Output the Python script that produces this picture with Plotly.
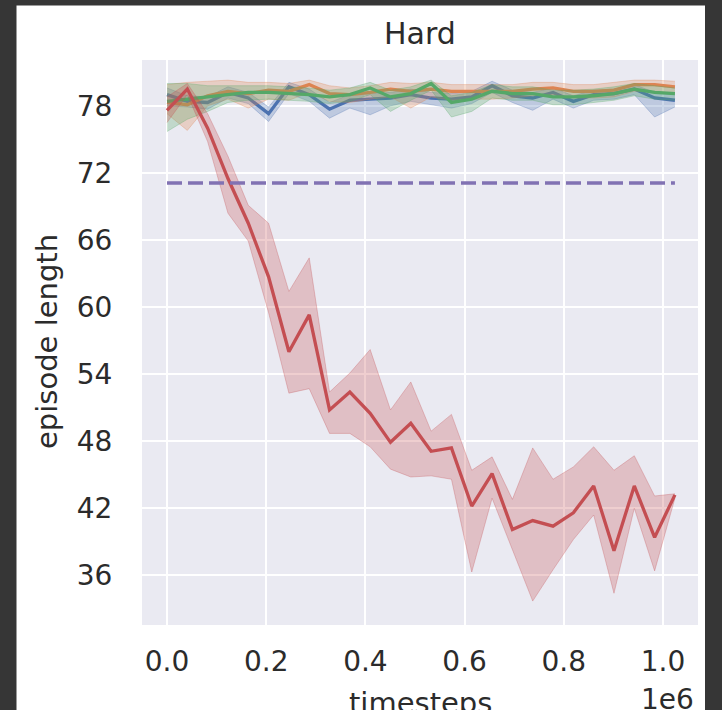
import plotly.graph_objects as go

# ---------------- data ----------------
timesteps = [0, 40960, 81920, 122880, 163840, 204800, 245760, 286720, 327680, 368640,
             409600, 450560, 491520, 532480, 573440, 614400, 655360, 696320, 737280,
             778240, 819200, 860160, 901120, 942080, 983040, 1024000]

blue_mean = [79.0, 78.4, 78.3, 79.2, 78.7, 77.3, 79.7, 79.0, 77.7, 78.5, 78.6, 78.7, 79.0,
             78.7, 78.6, 78.8, 79.8, 78.9, 78.7, 79.2, 78.4, 79.0, 79.1, 79.5, 78.7, 78.5]
blue_upper = [79.6, 78.9, 78.8, 79.7, 79.2, 77.9, 80.1, 79.5, 78.3, 79.0, 79.1, 79.2, 79.5,
              79.2, 79.1, 79.3, 80.2, 79.4, 79.2, 79.6, 78.9, 79.4, 79.5, 79.9, 79.2, 79.0]
blue_lower = [78.0, 77.9, 77.7, 78.7, 78.2, 76.6, 79.1, 78.4, 76.9, 77.8, 77.2, 78.0, 78.4,
              78.1, 77.8, 78.2, 79.2, 78.3, 77.6, 78.6, 77.8, 78.5, 78.6, 79.0, 77.0, 77.9]

orange_mean = [78.3, 78.1, 78.9, 79.3, 79.1, 79.4, 79.3, 79.9, 79.1, 79.0, 79.2, 79.5, 79.3,
               79.5, 79.3, 79.3, 79.3, 79.3, 79.5, 79.6, 79.3, 79.3, 79.4, 79.9, 79.9, 79.7]
orange_upper = [79.9, 80.1, 80.2, 80.3, 80.1, 80.1, 80.0, 80.3, 79.8, 79.6, 79.8, 80.1, 80.0,
                80.1, 79.9, 79.9, 79.9, 79.9, 80.1, 80.1, 79.9, 79.9, 80.1, 80.3, 80.3, 80.2]
orange_lower = [77.3, 75.8, 78.0, 78.6, 77.8, 78.6, 78.5, 79.2, 78.4, 78.3, 78.6, 78.8, 77.8,
                78.8, 78.5, 78.6, 78.6, 78.7, 78.9, 79.0, 78.7, 78.7, 78.8, 79.3, 79.3, 79.1]

green_mean = [78.4, 78.6, 78.8, 79.0, 79.2, 79.2, 79.1, 79.0, 78.8, 79.0, 79.6, 78.8, 79.1,
              80.0, 78.3, 78.6, 79.3, 79.1, 79.1, 78.8, 78.8, 78.9, 79.1, 79.5, 79.2, 79.1]
green_upper = [80.0, 80.0, 79.8, 79.8, 79.8, 79.8, 79.7, 79.6, 79.4, 79.6, 80.1, 79.4, 79.7,
               80.3, 78.9, 79.2, 79.9, 79.7, 79.7, 79.4, 79.4, 79.5, 79.7, 80.0, 79.8, 79.6]
green_lower = [75.7, 76.8, 77.5, 78.3, 78.5, 78.6, 78.5, 78.4, 78.2, 78.4, 79.0, 77.5, 78.5,
               79.4, 77.0, 77.5, 78.7, 78.5, 78.5, 78.1, 78.1, 78.3, 78.5, 78.9, 78.6, 78.5]

red_mean = [77.6, 79.5, 76.0, 71.5, 67.5, 62.7, 56.0, 59.3, 50.8, 52.4, 50.5, 47.9, 49.6,
            47.1, 47.4, 42.2, 45.1, 40.1, 40.9, 40.4, 41.6, 44.0, 38.2, 44.0, 39.4, 43.2]
red_upper = [78.8, 80.0, 77.3, 73.5, 69.1, 67.5, 61.4, 64.4, 52.4, 54.1, 56.2, 50.8, 53.3,
             48.9, 50.4, 45.4, 46.6, 42.8, 47.4, 44.6, 45.7, 47.5, 45.4, 46.7, 43.1, 43.3]
red_lower = [76.5, 79.0, 74.8, 68.4, 65.9, 59.5, 52.3, 52.7, 48.7, 48.7, 47.5, 45.5, 44.8,
             44.9, 44.6, 36.3, 42.9, 38.3, 33.7, 36.5, 39.2, 41.4, 34.4, 42.0, 36.4, 42.9]

baseline_value = 71.1

x_tickvals = [0, 200000, 400000, 600000, 800000, 1000000]
x_ticktext = ["0.0", "0.2", "0.4", "0.6", "0.8", "1.0"]
y_tickvals = [36, 42, 48, 54, 60, 66, 72, 78]
y_ticktext = ["36", "42", "48", "54", "60", "66", "72", "78"]

# ---------------- styling ----------------
W, H = 722, 710
L, R, T, B = 142, 24, 60, 85
PW, PH = W - L - R, H - T - B
FONT = "DejaVu Sans"
TXT = "#2b2b2b"

def px2x(px):
    return (px - L) / PW

def py2y(py):
    return (T + PH - py) / PH

series = [
    ("#4C72B0", (76, 114, 176), blue_mean, blue_upper, blue_lower),
    ("#DD8452", (221, 132, 82), orange_mean, orange_upper, orange_lower),
    ("#55A868", (85, 168, 104), green_mean, green_upper, green_lower),
    ("#C44E52", (196, 78, 82), red_mean, red_upper, red_lower),
]

fig = go.Figure()
for color, rgb, mean, up, lo in series:
    band = "rgba(%d,%d,%d,0.28)" % rgb
    edge = "rgba(%d,%d,%d,0.30)" % rgb
    fig.add_trace(go.Scatter(x=timesteps, y=up, mode="lines",
                             line=dict(color=edge, width=1), showlegend=False,
                             hoverinfo="skip"))
    fig.add_trace(go.Scatter(x=timesteps, y=lo, mode="lines", fill="tonexty",
                             fillcolor=band, line=dict(color=edge, width=1),
                             showlegend=False, hoverinfo="skip"))
    fig.add_trace(go.Scatter(x=timesteps, y=mean, mode="lines",
                             line=dict(color=color, width=3.3), showlegend=False))

fig.add_trace(go.Scatter(x=[timesteps[0], timesteps[-1]],
                         y=[baseline_value, baseline_value], mode="lines",
                         line=dict(color="#8172B3", width=3.5, dash="15px,6px"),
                         showlegend=False))

axis_common = dict(showgrid=True, gridcolor="white", gridwidth=2, zeroline=False,
                   showline=False, ticks="outside", tickcolor="rgba(0,0,0,0)",
                   tickfont=dict(family=FONT, size=28, color=TXT))

fig.update_xaxes(range=[-50400, 1070500], tickvals=x_tickvals, ticktext=x_ticktext,
                 ticklen=11, **axis_common)
fig.update_yaxes(range=[31.56, 82.1], tickvals=y_tickvals, ticktext=y_ticktext,
                 ticklen=23, **axis_common)

shapes = []
frame = "#363636"
for (x0, y0, x1, y1) in [(0, 0, 16.5, H), (0, 0, W, 5.5), (705, 0, W, H)]:
    shapes.append(dict(type="rect", xref="paper", yref="paper",
                       x0=px2x(x0), x1=px2x(x1), y0=py2y(y1), y1=py2y(y0),
                       fillcolor=frame, line=dict(width=0), layer="above"))

annotations = [
    dict(text="Hard", x=0.5, y=py2y(34), xref="paper", yref="paper",
         xanchor="center", yanchor="middle", showarrow=False,
         font=dict(family=FONT, size=30, color=TXT)),
    dict(text="episode length", x=px2x(47), y=py2y(342), xref="paper", yref="paper",
         xanchor="center", yanchor="middle", textangle=-90, showarrow=False,
         font=dict(family=FONT, size=29, color=TXT)),
    dict(text="timesteps", x=0.5, y=py2y(703), xref="paper", yref="paper",
         xanchor="center", yanchor="middle", showarrow=False,
         font=dict(family=FONT, size=29, color=TXT)),
    dict(text="1e6", x=px2x(696), y=py2y(699), xref="paper", yref="paper",
         xanchor="right", yanchor="middle", showarrow=False,
         font=dict(family=FONT, size=28, color=TXT)),
]

fig.update_layout(width=W, height=H, margin=dict(l=L, r=R, t=T, b=B, pad=0),
                  paper_bgcolor="white", plot_bgcolor="#EAEAF2",
                  shapes=shapes, annotations=annotations, showlegend=False)

fig.write_html("out.html", config={"displayModeBar": False},
               post_script="document.body.style.margin='0px';"
                           "document.body.style.overflow='hidden';")
